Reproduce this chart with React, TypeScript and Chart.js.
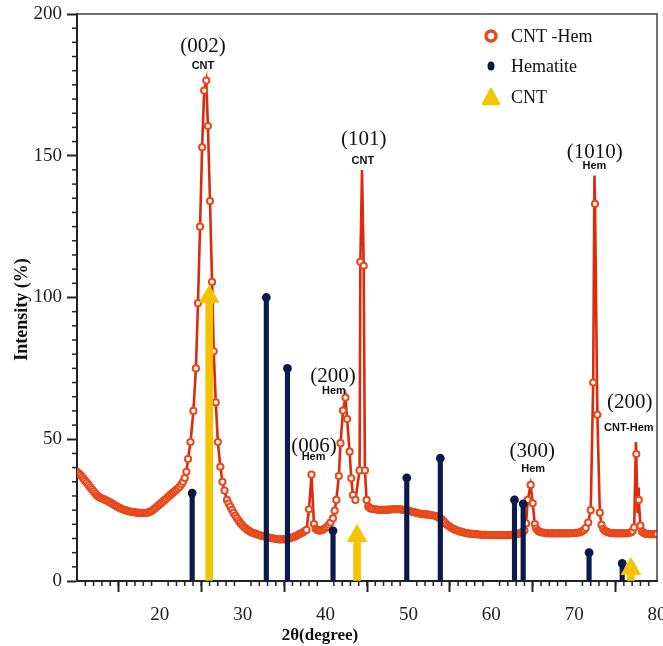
import React, { useEffect, useRef } from 'react';
import { Chart, registerables } from 'chart.js';

Chart.register(...registerables);

// ---- CNT-Hem pattern: [2θ, intensity] points drawn with markers ----
const cntHemXY: [number, number][] = [
  [10.0, 38.5], [10.2, 38.0], [10.4, 37.4], [10.6, 36.7], [10.8, 36.0], [11.0, 35.3], [11.2, 34.6],
  [11.4, 33.8], [11.6, 33.0], [11.8, 32.3], [12.0, 31.6], [12.2, 30.9], [12.4, 30.2], [12.6, 29.7],
  [12.8, 29.4], [13.0, 29.1], [13.2, 28.9], [13.4, 28.6], [13.6, 28.3], [13.8, 28.0], [14.0, 27.7],
  [14.2, 27.4], [14.4, 27.0], [14.6, 26.6], [14.8, 26.3], [15.0, 26.0], [15.2, 25.7], [15.4, 25.4],
  [15.6, 25.2], [15.8, 25.0], [16.0, 24.8], [16.2, 24.6], [16.4, 24.5], [16.6, 24.4], [16.8, 24.3],
  [17.0, 24.2], [17.2, 24.1], [17.4, 24.0], [17.6, 24.0], [17.8, 24.0], [18.0, 24.0], [18.2, 24.0],
  [18.4, 24.0], [18.6, 24.2], [18.8, 24.4], [19.0, 24.7], [19.2, 25.1], [19.4, 25.6], [19.6, 26.1],
  [19.8, 26.6], [20.0, 27.1], [20.2, 27.6], [20.4, 28.1], [20.6, 28.6], [20.8, 29.1], [21.0, 29.7],
  [21.2, 30.2], [21.4, 30.7], [21.6, 31.2], [21.8, 31.7], [22.0, 32.2], [22.2, 32.7], [22.4, 33.3],
  [22.6, 34.1], [22.8, 35.0], [23.0, 36.3], [23.2, 38.5], [23.4, 43.0], [23.7, 49.0], [24.05, 60.0],
  [24.35, 75.0], [24.6, 98.0], [24.85, 125.0], [25.1, 153.0], [25.35, 173.0], [25.6, 176.5],
  [25.8, 160.5], [26.05, 134.0], [26.3, 105.5], [26.5, 81.0], [26.75, 63.0], [27.0, 49.0],
  [27.3, 40.3], [27.55, 35.0], [27.8, 31.9], [28.1, 28.6], [28.3, 27.3], [28.5, 26.2], [28.7, 25.1],
  [28.9, 24.0], [29.1, 23.1], [29.3, 22.2], [29.5, 21.3], [29.7, 20.5], [29.9, 19.8], [30.1, 19.2],
  [30.3, 18.7], [30.5, 18.2], [30.7, 17.8], [30.9, 17.4], [31.1, 17.1], [31.3, 16.9], [31.5, 16.7],
  [31.7, 16.5], [31.9, 16.3], [32.1, 16.1], [32.3, 15.9], [32.5, 15.8], [32.7, 15.6], [32.9, 15.5],
  [33.1, 15.3], [33.3, 15.2], [33.5, 15.1], [33.7, 15.0], [33.9, 14.9], [34.1, 14.8], [34.3, 14.7],
  [34.5, 14.7], [34.7, 14.7], [34.9, 14.7], [35.1, 14.7], [35.3, 14.8], [35.5, 14.9], [35.7, 15.1],
  [35.9, 15.3], [36.1, 15.5], [36.3, 15.7], [36.5, 16.0], [36.7, 16.3], [36.9, 16.6], [37.1, 16.9],
  [37.3, 17.2], [37.5, 17.6], [37.7, 18.0], [38.0, 25.3], [38.3, 37.5], [38.6, 20.1], [38.8, 18.4],
  [39.0, 18.0], [39.2, 17.8], [39.4, 17.8], [39.6, 18.0], [39.8, 18.3], [40.0, 18.7], [40.2, 19.2],
  [40.4, 19.8], [40.6, 20.6], [40.9, 22.1], [41.1, 24.8], [41.3, 28.6], [41.6, 37.0], [41.8, 48.6],
  [42.1, 60.1], [42.4, 64.7], [42.6, 57.1], [42.9, 45.6], [43.1, 36.2], [43.3, 30.3], [43.6, 28.6],
  [44.1, 39.0], [44.2, 112.6], [44.6, 111.2], [44.75, 39.0], [44.95, 28.6], [45.15, 26.2],
  [45.35, 25.7], [45.55, 25.5], [45.75, 25.4], [46.0, 25.3], [46.2, 25.2], [46.4, 25.1], [46.6, 25.1],
  [46.8, 25.1], [47.0, 25.1], [47.2, 25.1], [47.4, 25.1], [47.6, 25.2], [47.8, 25.2], [48.0, 25.3],
  [48.2, 25.3], [48.4, 25.3], [48.6, 25.3], [48.8, 25.3], [49.0, 25.3], [49.2, 25.2], [49.4, 25.1],
  [49.6, 25.0], [49.8, 24.9], [50.0, 24.8], [50.2, 24.6], [50.4, 24.5], [50.6, 24.3], [50.8, 24.2],
  [51.0, 24.0], [51.2, 23.9], [51.4, 23.7], [51.6, 23.6], [51.8, 23.6], [52.0, 23.5], [52.2, 23.5],
  [52.4, 23.4], [52.6, 23.3], [52.8, 23.2], [53.0, 23.1], [53.2, 23.0], [53.4, 22.8], [53.6, 22.5],
  [53.8, 22.1], [54.0, 21.8], [54.2, 21.2], [54.4, 20.6], [54.6, 20.0], [54.8, 19.5], [55.0, 19.1],
  [55.2, 18.7], [55.4, 18.4], [55.6, 18.1], [55.8, 17.9], [56.0, 17.7], [56.2, 17.5], [56.4, 17.3],
  [56.6, 17.2], [56.8, 17.0], [57.0, 16.9], [57.2, 16.8], [57.4, 16.7], [57.6, 16.6], [57.8, 16.6],
  [58.0, 16.5], [58.2, 16.5], [58.4, 16.4], [58.6, 16.4], [58.8, 16.3], [59.0, 16.3], [59.2, 16.3],
  [59.4, 16.3], [59.6, 16.2], [59.8, 16.2], [60.0, 16.2], [60.2, 16.2], [60.4, 16.2], [60.6, 16.2],
  [60.8, 16.2], [61.0, 16.2], [61.2, 16.2], [61.4, 16.2], [61.6, 16.2], [61.8, 16.2], [62.0, 16.2],
  [62.2, 16.2], [62.4, 16.3], [62.6, 16.3], [62.8, 16.4], [63.0, 16.5], [63.2, 16.6], [63.4, 16.8],
  [63.6, 17.0], [63.8, 17.3], [64.0, 17.8], [64.2, 20.3], [64.4, 28.6], [64.75, 33.9], [65.0, 27.4],
  [65.25, 20.1], [65.4, 18.5], [65.6, 17.8], [65.8, 17.4], [66.0, 17.2], [66.2, 17.1], [66.4, 17.0],
  [66.6, 16.9], [66.8, 16.9], [67.0, 16.8], [67.2, 16.8], [67.4, 16.8], [67.6, 16.8], [67.8, 16.8],
  [68.0, 16.8], [68.2, 16.8], [68.4, 16.8], [68.6, 16.8], [68.8, 16.8], [69.0, 16.8], [69.2, 16.8],
  [69.4, 16.8], [69.6, 16.9], [69.8, 16.9], [70.0, 16.9], [70.2, 17.0], [70.4, 17.0], [70.6, 17.1],
  [70.8, 17.3], [71.0, 17.6], [71.2, 18.0], [71.4, 18.7], [71.7, 20.6], [72.0, 25.0], [72.3, 70.0],
  [72.52, 133.0], [72.8, 58.6], [73.1, 24.1], [73.3, 19.8], [73.5, 18.4], [73.7, 17.7], [73.9, 17.4],
  [74.1, 17.2], [74.3, 17.0], [74.5, 16.9], [74.7, 16.9], [74.9, 16.8], [75.1, 16.8], [75.3, 16.8],
  [75.5, 16.8], [75.7, 16.8], [75.9, 16.8], [76.1, 16.8], [76.3, 16.8], [76.5, 16.9], [76.7, 17.0],
  [76.9, 17.2], [77.05, 17.6], [77.25, 18.9], [77.5, 44.8], [77.8, 28.6], [78.0, 19.5], [78.2, 17.4],
  [78.4, 16.9], [78.6, 16.7], [78.8, 16.6], [79.0, 16.6], [79.2, 16.5], [79.4, 16.5], [79.6, 16.5],
  [79.8, 16.5], [80.0, 16.5],
];
// peak tops the line reaches without a marker
const lineOnlyX = [44.4, 72.45, 77.45, 77.65, 77.72];
const lineOnlyY = [145, 143, 49, 24, 33];

// ---- Hematite reference lines ----
const hematiteX = [23.9, 32.85, 35.4, 40.9, 49.8, 53.85, 62.8, 63.85, 71.8, 75.8];
const hematiteY = [31, 100, 75, 17.7, 36.4, 43.3, 28.6, 27.2, 10, 6.2];

// ---- CNT reference arrows ----
const cntX = [25.95, 43.8, 76.85];
const cntY = [100.3, 15.9, 4.2];

// ---- peak annotations ----
const peakMain = ['(002)', '(101)', '(200)', '(006)', '(1010)', '(300)', '(200)'];
const peakSub = ['CNT', 'CNT', 'Hem', 'Hem', 'Hem', 'Hem', 'CNT-Hem'];
const peakX = [25.2, 44.6, 40.9, 38.6, 72.5, 64.95, 76.7];
const peakY = [188.4, 155.6, 72.1, 47.6, 151.3, 45.6, 62.8];
const peakSubX = [25.2, 44.5, 41.0, 38.55, 72.45, 65.05, 76.6];
const peakSubY = [181.7, 148.0, 67.1, 43.6, 146.4, 39.4, 54.1];

const legendLabels = ['CNT -Hem', 'Hematite', 'CNT'];
const xTitle = '2θ(degree)';
const yTitle = 'Intensity (%)';

const SERIF = '"Liberation Serif", "Times New Roman", serif';
const SANS = '"Liberation Sans", Arial, sans-serif';
const RED_LINE = '#dc2a0c';
const RED_MARK = '#e9481b';
const NAVY = '#0b1a4a';
const GOLD = '#f6c300';
const AXIS = '#222';

const decor = {
  id: 'decor',
  afterDraw(chart: any) {
    const { ctx, chartArea: a, scales } = chart;
    const x = scales.x;
    const y = scales.y;
    ctx.save();
    // minor ticks
    ctx.strokeStyle = AXIS;
    ctx.lineWidth = 1.5;
    for (let v = 11; v < 80; v++) {
      if (v % 10 === 0) continue;
      const px = x.getPixelForValue(v);
      ctx.beginPath();
      ctx.moveTo(px, a.bottom);
      ctx.lineTo(px, a.bottom + 5);
      ctx.stroke();
    }
    for (let v = 5; v < 200; v += 5) {
      if (v % 50 === 0) continue;
      const py = y.getPixelForValue(v);
      ctx.beginPath();
      ctx.moveTo(a.left - 5, py);
      ctx.lineTo(a.left, py);
      ctx.stroke();
    }
    // frame top/right
    ctx.strokeStyle = '#444';
    ctx.lineWidth = 1.5;
    ctx.beginPath();
    ctx.moveTo(a.left, a.top);
    ctx.lineTo(a.right, a.top);
    ctx.lineTo(a.right, a.bottom);
    ctx.stroke();

    // axis titles
    ctx.fillStyle = '#111';
    ctx.textAlign = 'center';
    ctx.textBaseline = 'middle';
    ctx.font = 'bold 17px ' + SERIF;
    ctx.fillText(xTitle, a.left + 243, a.bottom + 55);
    ctx.save();
    ctx.translate(a.left - 55, (a.top + a.bottom) / 2 + 12);
    ctx.rotate(-Math.PI / 2);
    ctx.font = 'bold 18px ' + SERIF;
    ctx.fillText(yTitle, 0, 0);
    ctx.restore();

    // peak labels
    for (let i = 0; i < peakMain.length; i++) {
      ctx.font = '21px ' + SERIF;
      ctx.fillStyle = '#111';
      ctx.fillText(peakMain[i], x.getPixelForValue(peakX[i]), y.getPixelForValue(peakY[i]));
      ctx.font = 'bold 11px ' + SANS;
      ctx.fillText(peakSub[i], x.getPixelForValue(peakSubX[i]), y.getPixelForValue(peakSubY[i]));
    }

    // legend
    const lx = a.right - 166;
    const tx = a.right - 146;
    const rows = [a.top + 22, a.top + 52, a.top + 83];
    ctx.beginPath();
    ctx.arc(lx, rows[0], 5, 0, Math.PI * 2);
    ctx.fillStyle = '#fff';
    ctx.fill();
    ctx.lineWidth = 3.5;
    ctx.strokeStyle = RED_MARK;
    ctx.stroke();
    ctx.beginPath();
    ctx.ellipse(lx, rows[1], 3.5, 4.5, 0, 0, Math.PI * 2);
    ctx.fillStyle = NAVY;
    ctx.fill();
    ctx.beginPath();
    ctx.moveTo(lx, rows[2] - 8);
    ctx.lineTo(lx + 8, rows[2] + 7);
    ctx.lineTo(lx - 8, rows[2] + 7);
    ctx.closePath();
    ctx.fillStyle = GOLD;
    ctx.fill();
    ctx.lineJoin = 'round';
    ctx.lineWidth = 2.5;
    ctx.strokeStyle = GOLD;
    ctx.stroke();
    ctx.font = '18px ' + SERIF;
    ctx.fillStyle = '#111';
    ctx.textAlign = 'left';
    legendLabels.forEach((t, i) => ctx.fillText(t, tx, rows[i] + 1));
    ctx.restore();
  },
};

export default function App() {
  const ref = useRef<HTMLCanvasElement>(null);
  useEffect(() => {
    if (!ref.current) return;
    const pts: any[] = cntHemXY.map(([xv, yv]) => ({ x: xv, y: yv, m: true }));
    lineOnlyX.forEach((xv, i) => pts.push({ x: xv, y: lineOnlyY[i], m: false }));
    pts.sort((p, q) => p.x - q.x);
    const hem = hematiteX.map((xv, i) => ({ x: xv, y: hematiteY[i] }));
    const cnt = cntX.map((xv, i) => ({ x: xv, y: cntY[i] }));

    const chart = new Chart(ref.current, {
      type: 'scatter',
      data: {
        datasets: [
          {
            type: 'scatter',
            label: 'CNT -Hem',
            data: pts,
            showLine: true,
            borderColor: RED_LINE,
            borderWidth: 2.6,
            pointRadius: (c: any) => (c.raw && c.raw.m ? 3.1 : 0),
            pointBackgroundColor: '#fff',
            pointBorderColor: RED_MARK,
            pointBorderWidth: 2,
            order: 5,
          } as any,
          {
            type: 'bar',
            label: 'Hematite',
            data: hem,
            backgroundColor: NAVY,
            barThickness: 4.5,
            grouped: false,
            order: 4,
          } as any,
          {
            type: 'scatter',
            label: 'Hematite caps',
            data: hem,
            pointRadius: 4.4,
            pointBackgroundColor: NAVY,
            pointBorderColor: NAVY,
            pointBorderWidth: 0,
            order: 3,
          } as any,
          {
            type: 'bar',
            label: 'CNT',
            data: cnt,
            backgroundColor: GOLD,
            barThickness: 7,
            grouped: false,
            order: 2,
          } as any,
          {
            type: 'scatter',
            label: 'CNT heads',
            data: cnt,
            pointStyle: 'triangle',
            pointRadius: 10,
            pointBackgroundColor: GOLD,
            pointBorderColor: GOLD,
            pointBorderWidth: 2,
            order: 1,
          } as any,
        ],
      },
      options: {
        responsive: false,
        animation: false,
        events: [],
        layout: { autoPadding: false, padding: { left: 0, right: 6, top: 14, bottom: 0 } },
        plugins: { legend: { display: false }, tooltip: { enabled: false } },
        scales: {
          x: {
            type: 'linear',
            position: 'bottom',
            min: 10,
            max: 80,
            offset: false,
            ticks: {
              stepSize: 10,
              autoSkip: false,
              maxRotation: 0,
              padding: 12,
              color: AXIS,
              font: { family: SERIF, size: 19 },
              callback: (v: any) => (v === 10 ? '' : String(v)),
            },
            grid: {
              drawOnChartArea: false,
              drawTicks: true,
              tickLength: 11,
              tickWidth: 2,
              tickColor: AXIS,
            },
            border: { display: true, color: AXIS, width: 2 },
            afterFit: (s: any) => {
              s.height = 65;
              s.paddingLeft = 0;
              s.paddingRight = 0;
            },
          } as any,
          y: {
            type: 'linear',
            min: 0,
            max: 200,
            ticks: {
              stepSize: 50,
              padding: 5,
              color: AXIS,
              font: { family: SERIF, size: 19 },
            },
            grid: {
              drawOnChartArea: false,
              drawTicks: true,
              tickLength: 10,
              tickWidth: 2,
              tickColor: AXIS,
            },
            border: { display: true, color: AXIS, width: 2 },
            afterFit: (s: any) => {
              s.width = 77;
              s.paddingTop = 0;
              s.paddingBottom = 0;
            },
          } as any,
        },
      },
      plugins: [decor],
    });
    return () => chart.destroy();
  }, []);

  return (
    <div style={{ position: 'absolute', left: 0, top: 0, width: 663, height: 646, background: '#fff' }}>
      <canvas ref={ref} width={663} height={646} style={{ display: 'block' }} />
    </div>
  );
}
